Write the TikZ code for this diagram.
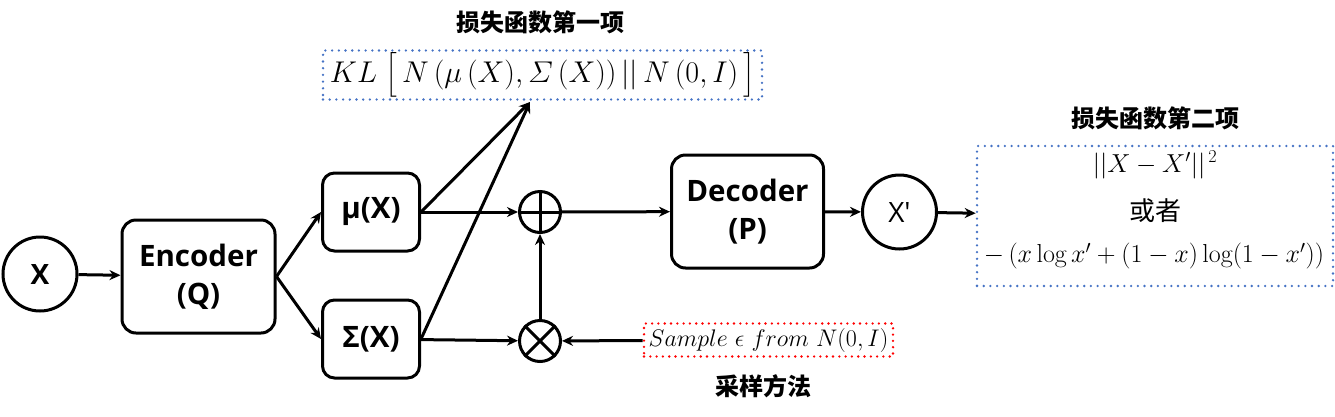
\RequirePackage{fix-cm}
\documentclass[tikz,border=0pt]{standalone}
\usepackage{amsmath}
\usepackage{fontspec}
\setsansfont{Open Sans}
\newfontfamily\cjk{Noto Sans CJK SC}
\usetikzlibrary{arrows.meta}
\definecolor{lossblue}{RGB}{68,114,196}
\definecolor{samplered}{RGB}{255,0,0}

\begin{document}
\begin{tikzpicture}[x=1pt,y=-1pt,
  box/.style={draw, line width=3pt, rounded corners=14pt, align=center,
    font=\sffamily\bfseries\fontsize{29.5}{38}\selectfont},
  var/.style={draw, circle, line width=3pt, minimum size=74pt, inner sep=0pt},
  op/.style={draw, circle, line width=3pt, minimum size=41pt, inner sep=0pt},
  arr/.style={line width=3pt, -{Stealth[length=11pt,width=10pt]}},
  note/.style={font=\cjk\bfseries\fontsize{24}{28}\selectfont},
  lossbox/.style={draw=lossblue, line width=2.6pt, line cap=round, dash pattern=on 0pt off 6.7pt},
  samplebox/.style={draw=samplered, line width=2.6pt, line cap=round, dash pattern=on 0pt off 6.3pt}]
\useasboundingbox (0,0) rectangle (1335,416);

% encoder side
\node[var, font=\sffamily\bfseries\fontsize{28}{32}\selectfont] (x) at (40,274) {X};
\node[box, minimum width=153pt, minimum height=113pt] (enc) at (198.5,276.5) {Encoder\\(Q)};
\node[box, minimum width=97pt, minimum height=78pt, rounded corners=12pt] (mu) at (371,212) {μ(X)};
\node[box, minimum width=97pt, minimum height=78pt, rounded corners=12pt] (sig) at (371,339) {Σ(X)};

% sampling
\node[op] (plus) at (540,212) {};
\draw[line width=3pt] (plus.north) -- (plus.south) (plus.west) -- (plus.east);
\node[op] (times) at (540,341) {};
\draw[line width=3pt] (times.north west) -- (times.south east) (times.north east) -- (times.south west);
\node[samplebox, minimum width=249pt, minimum height=33pt, inner sep=0pt,
  font=\fontsize{24}{28}\selectfont] (samp) at (768.5,340) {$Sample\ \epsilon\ from\ N(0,I)$};
\node[note] (t3) at (763,386) {采样方法};

% decoder side
\node[box, minimum width=152pt, minimum height=113pt] (dec) at (747.5,211.5) {Decoder\\(P)};
\node[var, font=\sffamily\fontsize{28}{32}\selectfont] (xp) at (899.5,212) {X′};

% loss terms
\node[lossbox, minimum width=439pt, minimum height=49pt, inner sep=0pt,
  font=\fontsize{30}{33}\selectfont] (kl) at (542.5,75)
  {$KL\;\big[\,N\,(\mu\,(X),\varSigma\,(X))\,||\,N\,(0,I)\,\big]$};
\node[note] (t1) at (540,22) {损失函数第一项};

\node[lossbox, minimum width=356pt, minimum height=140pt] (rec) at (1155,216) {};
\node[note] (t2) at (1155,118) {损失函数第二项};
\node[font=\fontsize{26}{30}\selectfont] (rec1) at (1155,165) {$||X-X'||^{\,2}$};
\node[font=\cjk\fontsize{26}{30}\selectfont] (rec2) at (1155,211) {或者};
\node[font=\fontsize{26}{30}\selectfont] (rec3) at (1154,256) {$-\,(x\log x'+(1-x)\log(1-x'))$};

\coordinate (kltip) at (530,102);

\draw[arr] (x) -- (enc);
\draw[arr] (enc.east) -- (mu.west);
\draw[arr] (enc.east) -- (sig.west);
\draw[arr] (mu.east) -- (kltip);
\draw[arr] (sig.east) -- (kltip);
\draw[arr] (mu) -- (plus);
\draw[arr] (sig) -- (times);
\draw[arr] (times) -- (plus);
\draw[arr] (samp) -- (times);
\draw[arr] (plus) -- (dec);
\draw[arr] (dec) -- (xp);
\draw[arr] (xp) -- (rec);
\end{tikzpicture}
\end{document}
